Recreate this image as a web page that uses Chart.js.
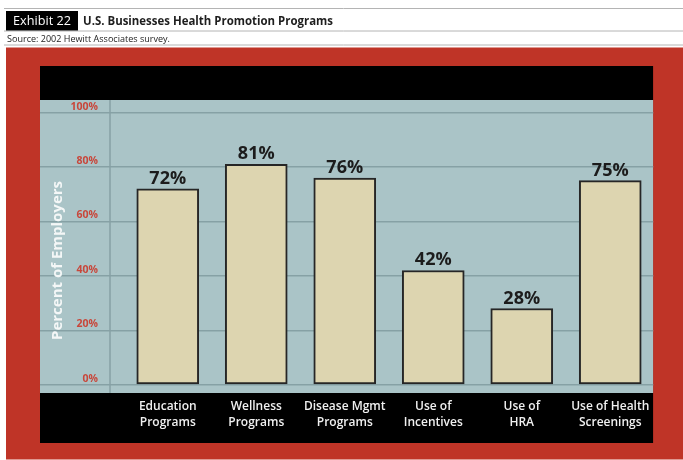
<!DOCTYPE html>
<html><head><meta charset="utf-8">
<script src="https://cdn.jsdelivr.net/npm/chart.js@4"></script>
<style>
html,body{margin:0;padding:0;background:#fff;overflow:hidden}
#wrap{position:relative;width:683px;height:460px}
canvas{position:absolute;left:0;top:0}
.t{position:absolute;white-space:nowrap;transform-origin:0 50%;font-family:"Open Sans",sans-serif;line-height:1}
</style></head><body>
<div id="wrap">
<canvas id="c" width="683" height="460"></canvas>
<div class="t" id="ex" data-w="58" style="left:12.7px;top:14px;font-size:13px;color:#fff;font-weight:500">Exhibit 22</div>
<div class="t" id="ti" data-w="250" style="left:83.3px;top:14px;font-size:13px;color:#1e1e1e;font-weight:700">U.S. Businesses Health Promotion Programs</div>
<div class="t" id="so" data-w="163" style="left:6.7px;top:35px;font-size:8.5px;color:#222;font-weight:400">Source: 2002 Hewitt Associates survey.</div>
</div>
<script>
const categories = [["Education","Programs"],["Wellness","Programs"],["Disease Mgmt","Programs"],["Use of","Incentives"],["Use of","HRA"],["Use of Health","Screenings"]];
const values = [72, 81, 76, 42, 28, 75];
const yTicks = [0, 20, 40, 60, 80, 100];
const yTitle = "Percent of Employers";

document.querySelectorAll('.t').forEach(el=>{
  const w = el.getBoundingClientRect().width;
  const target = +el.dataset.w;
  el.style.transform = 'scaleX(' + (target / w) + ')';
});

const frame = {
  id:'frame',
  beforeDraw(chart){
    const c = chart.ctx;
    c.save();
    c.fillStyle = '#fff'; c.fillRect(0,0,683,460);
    c.strokeStyle = '#b4b4b4'; c.lineWidth = 1;
    [8.5, 31, 45].forEach(y=>{ c.beginPath(); c.moveTo(4,y); c.lineTo(683,y); c.stroke(); });
    c.fillStyle = '#000'; c.fillRect(6,11,72,19.5);
    c.fillStyle = '#bf3427'; c.fillRect(6,47.5,677,412);
    c.fillStyle = '#000'; c.fillRect(40,66,613.3,377);
    c.fillStyle = '#aac4c7'; c.fillRect(40,100,613.3,293);
    c.restore();
  },
  beforeDatasetsDraw(chart){
    const c = chart.ctx;
    c.save();
    c.strokeStyle = '#86a1a5'; c.lineWidth = 1.5;
    c.beginPath(); c.moveTo(110,100); c.lineTo(110,393); c.stroke();
    c.translate(57.3, 260.5); c.rotate(-Math.PI/2);
    c.fillStyle = '#f4f7f7'; c.font = '700 15px "Open Sans"';
    c.textAlign = 'center'; c.textBaseline = 'middle';
    c.fillText(yTitle, 0, 0);
    c.restore();
  },
  afterDatasetsDraw(chart){
    const c = chart.ctx;
    const meta = chart.getDatasetMeta(0);
    c.save();
    c.fillStyle = '#1c1c1c'; c.font = '700 18px "Open Sans"';
    c.textAlign = 'center'; c.textBaseline = 'alphabetic';
    meta.data.forEach((bar,i)=>{ c.fillText(values[i] + '%', bar.x, bar.y - 5); });
    c.restore();
  },
  afterDraw(chart){
    const c = chart.ctx;
    c.save();
    c.fillStyle = '#bf3427'; c.fillRect(653.3,66,30,377);
    c.restore();
  }
};

new Chart(document.getElementById('c'), {
  type:'bar',
  data:{labels:categories, datasets:[{data:values, backgroundColor:'#ddd5b0', borderColor:'#262626', borderWidth:2, barThickness:62, borderSkipped:false}]},
  options:{
    responsive:false, animation:false, devicePixelRatio:1,
    layout:{padding:{left:40, top:100, right:28.5, bottom:17}},
    plugins:{legend:{display:false}, tooltip:{enabled:false}},
    scales:{
      x:{
        grid:{display:false, drawTicks:false}, border:{display:false},
        ticks:{color:'#f0f0f0', font:{family:'"Open Sans"', size:12, weight:'600', lineHeight:1.333}, padding:6, maxRotation:0, autoSkip:false},
        afterFit(s){ s.height = 50; }
      },
      y:{
        min:-3.05, max:104.67,
        afterBuildTicks(s){ s.ticks = yTicks.map(v=>({value:v})); },
        grid:{color:'#86a1a5', lineWidth:1.5, drawTicks:true, tickLength:83.5, tickColor:'#86a1a5'},
        border:{display:false},
        ticks:{color:'#c8473b', font:{family:'"Open Sans"', size:10.5, weight:'700'}, padding:-58, labelOffset:-6, callback:v=>v + '%'},
        afterFit(s){ s.width = 83.5; }
      }
    }
  },
  plugins:[frame]
});
</script>
</body></html>
